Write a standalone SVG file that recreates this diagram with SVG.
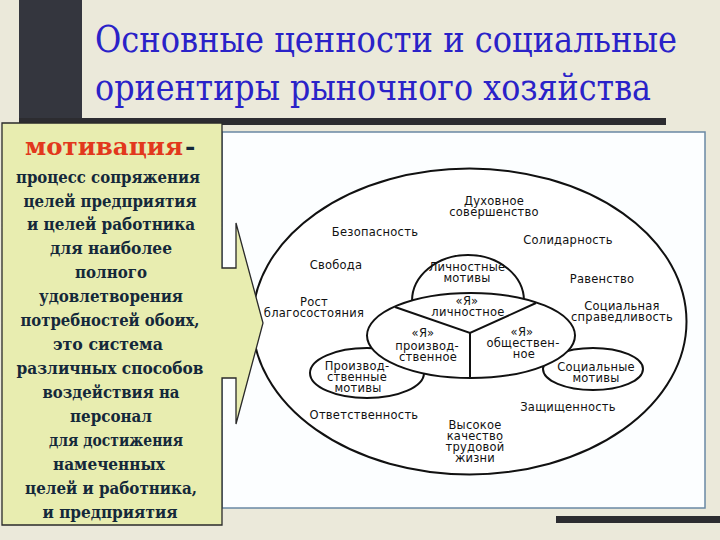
<svg xmlns="http://www.w3.org/2000/svg" width="720" height="540" viewBox="0 0 720 540">
<style>
.t{font-family:"DejaVu Serif","Liberation Serif",serif;font-size:37px;fill:#2a22c8}
.b{font-family:"DejaVu Serif","Liberation Serif",serif;font-weight:bold;font-size:17px;fill:#14283a;text-anchor:middle}
.s{font-family:"DejaVu Sans","Liberation Sans",sans-serif;font-size:11.5px;letter-spacing:0.25px;fill:#111;text-anchor:middle}
.ln{fill:#fff;stroke:#111;stroke-width:2}
</style>
<rect width="720" height="540" fill="#ebe9da"/>
<rect x="19" y="0" width="63" height="118" fill="#34363e"/>
<rect x="19" y="118" width="647" height="7" fill="#2c2c30"/>
<rect x="556" y="516" width="164" height="7" fill="#2c2c30"/>
<text class="t" x="95" y="52" textLength="582" lengthAdjust="spacingAndGlyphs">Основные ценности и социальные</text>
<text class="t" x="95" y="100" textLength="556" lengthAdjust="spacingAndGlyphs">ориентиры рыночного хозяйства</text>
<rect x="222" y="132" width="483" height="376" fill="#fcfeff" stroke="#6a88a4" stroke-width="1.5"/>
<g id="connectors">
<ellipse class="ln" cx="469.5" cy="321.5" rx="217" ry="153"/>
</g>
<g id="personal-motives">
<ellipse class="ln" cx="468" cy="301" rx="56" ry="46"/>
<text class="s" x="467" y="271">Личностные</text>
<text class="s" x="467" y="282">мотивы</text>
</g>
<g id="production-motives">
<ellipse class="ln" cx="367" cy="373" rx="57" ry="25"/>
<text class="s" x="357" y="370">Производ-</text>
<text class="s" x="357" y="381">ственные</text>
<text class="s" x="358" y="392">мотивы</text>
</g>
<g id="social-motives">
<ellipse class="ln" cx="593" cy="369" rx="50" ry="21"/>
<text class="s" x="596" y="371">Социальные</text>
<text class="s" x="596" y="382">мотивы</text>
</g>
<g id="self">
<ellipse class="ln" cx="471" cy="335.5" rx="104" ry="42.5"/>
<path d="M395 307 L470 333 L536 303 M470 333 L470 378" fill="none" stroke="#111" stroke-width="2"/>
<text class="s" x="467" y="305">«Я»</text>
<text class="s" x="468" y="316">личностное</text>
<text class="s" x="423" y="337">«Я»</text>
<text class="s" x="427" y="350">производ-</text>
<text class="s" x="428" y="361">ственное</text>
<text class="s" x="522" y="336">«Я»</text>
<text class="s" x="523" y="347">обществен-</text>
<text class="s" x="524" y="358">ное</text>
</g>
<g id="values">
<text class="s" x="494" y="205">Духовное</text>
<text class="s" x="494" y="216">совершенство</text>
<text class="s" x="375" y="236">Безопасность</text>
<text class="s" x="568" y="244">Солидарность</text>
<text class="s" x="336" y="269">Свобода</text>
<text class="s" x="602" y="283">Равенство</text>
<text class="s" x="314" y="306">Рост</text>
<text class="s" x="314" y="317">благосостояния</text>
<text class="s" x="622" y="310">Социальная</text>
<text class="s" x="622" y="321">справедливость</text>
<text class="s" x="568" y="411">Защищенность</text>
<text class="s" x="364" y="419">Ответственность</text>
<text class="s" x="475" y="429">Высокое</text>
<text class="s" x="475" y="440">качество</text>
<text class="s" x="475" y="451">трудовой</text>
<text class="s" x="475" y="462">жизни</text>
</g>
<g id="motivation-box">
<path d="M222 378 L222 525 L2 525 L2 123 L222 123 L222 268 L236 268 L236 223 L263 323 L236 424 L236 378 Z" fill="#e8edb0" stroke="#2a2a2a" stroke-width="1.3"/>
<text x="25" y="155" fill="#e2381c" textLength="158" lengthAdjust="spacingAndGlyphs" style="font-family:'DejaVu Serif','Liberation Serif',serif;font-weight:bold;font-size:25px">мотивация</text>
<text x="185" y="155" fill="#14283a" style="font-family:'DejaVu Serif','Liberation Serif',serif;font-weight:bold;font-size:25px">-</text>
<text class="b" x="108" y="183" textLength="184" lengthAdjust="spacingAndGlyphs">процесс сопряжения</text>
<text class="b" x="110" y="207" textLength="173" lengthAdjust="spacingAndGlyphs">целей предприятия</text>
<text class="b" x="111" y="230" textLength="168" lengthAdjust="spacingAndGlyphs">и целей работника</text>
<text class="b" x="111" y="254" textLength="122" lengthAdjust="spacingAndGlyphs">для наиболее</text>
<text class="b" x="111" y="278" textLength="72" lengthAdjust="spacingAndGlyphs">полного</text>
<text class="b" x="111" y="302" textLength="144" lengthAdjust="spacingAndGlyphs">удовлетворения</text>
<text class="b" x="110" y="326" textLength="179" lengthAdjust="spacingAndGlyphs">потребностей обоих,</text>
<text class="b" x="108" y="350" textLength="110" lengthAdjust="spacingAndGlyphs">это система</text>
<text class="b" x="110" y="374" textLength="187" lengthAdjust="spacingAndGlyphs">различных способов</text>
<text class="b" x="111" y="398" textLength="137" lengthAdjust="spacingAndGlyphs">воздействия на</text>
<text class="b" x="111" y="422" textLength="82" lengthAdjust="spacingAndGlyphs">персонал</text>
<text class="b" x="116" y="446" textLength="134" lengthAdjust="spacingAndGlyphs">для достижения</text>
<text class="b" x="109" y="470" textLength="112" lengthAdjust="spacingAndGlyphs">намеченных</text>
<text class="b" x="111" y="494" textLength="172" lengthAdjust="spacingAndGlyphs">целей и работника,</text>
<text class="b" x="110" y="518" textLength="135" lengthAdjust="spacingAndGlyphs">и предприятия</text>
</g>
</svg>
